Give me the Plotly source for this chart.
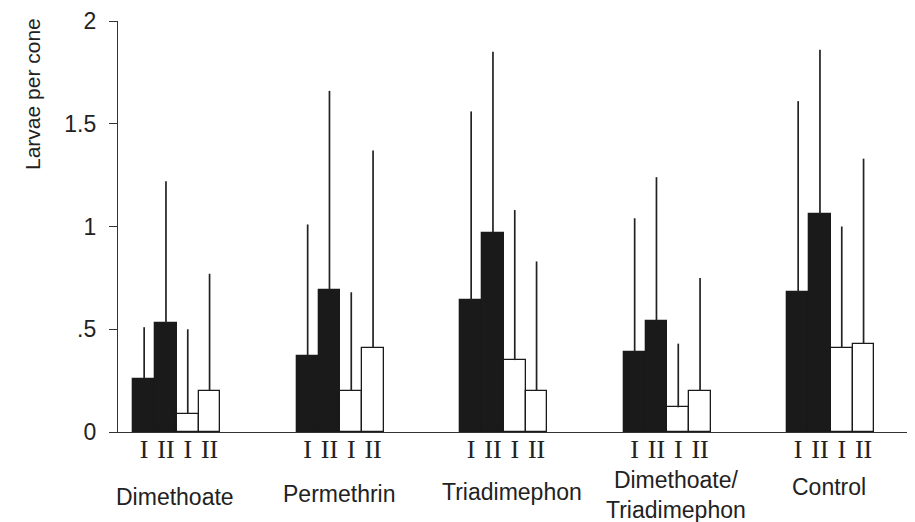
import plotly.graph_objects as go

categories = ["Dimethoate", "Permethrin", "Triadimephon", "Dimethoate/<br>Triadimephon", "Control"]
series_names = ["Black I", "Black II", "White I", "White II"]
roman_labels = ["I", "II", "I", "II"]

black_I = [0.26, 0.37, 0.64, 0.39, 0.68]
black_II = [0.53, 0.69, 0.97, 0.54, 1.06]
white_I = [0.09, 0.20, 0.35, 0.12, 0.41]
white_II = [0.20, 0.41, 0.20, 0.20, 0.43]

upper_black_I = [0.51, 1.01, 1.56, 1.04, 1.61]
upper_black_II = [1.22, 1.66, 1.85, 1.24, 1.86]
upper_white_I = [0.50, 0.68, 1.08, 0.43, 1.00]
upper_white_II = [0.77, 1.37, 0.83, 0.75, 1.33]

y_tickvals = [0, 0.5, 1, 1.5, 2]
y_ticktext = ["0", ".5", "1", "1.5", "2"]

# layout / style (page body has an 8px default margin)
OFF = 8
W, H = 915 - OFF, 522 - OFF
ml, mr, mt, mb = 118 - OFF, 2, 21 - OFF, 90
plot_w = W - ml - mr
plot_h = H - mt - mb
GROUP_STEP = 7.5
fills = ["#1a1a1a", "#1a1a1a", "#ffffff", "#ffffff"]
label_y_px = [497, 494, 492, 495, 487]
label_xshift = [-2, -1, 8, 9, -2]

means = [black_I, black_II, white_I, white_II]
uppers = [upper_black_I, upper_black_II, upper_white_I, upper_white_II]

fig = go.Figure()
tickvals, ticktext = [], []
for j, (name, vals, ups) in enumerate(zip(series_names, means, uppers)):
    xs = [g * GROUP_STEP + j for g in range(len(categories))]
    tickvals += xs
    ticktext += [roman_labels[j]] * len(xs)
    fig.add_trace(go.Bar(
        x=xs, y=vals, width=1, name=name,
        marker=dict(color=fills[j], line=dict(color="#1a1a1a", width=1.3)),
        error_y=dict(type="data", symmetric=False,
                     array=[u - v for u, v in zip(ups, vals)],
                     arrayminus=[0] * len(vals),
                     color="#222222", thickness=1.7, width=0),
        showlegend=False,
    ))


def py_to_paper(px):
    return (H - mb - (px - OFF)) / plot_h


def px_to_paper(px):
    return (px - OFF - ml) / plot_w


for g, cat in enumerate(categories):
    fig.add_annotation(
        x=g * GROUP_STEP + 1.5, xref="x",
        y=py_to_paper(label_y_px[g]), yref="paper",
        text=cat, showarrow=False, xshift=label_xshift[g],
        font=dict(family="Liberation Sans, Arial", size=23, color="#222222"),
        align="center", xanchor="center", yanchor="middle",
    )

fig.add_annotation(
    x=px_to_paper(32), xref="paper", y=py_to_paper(94), yref="paper",
    text="Larvae per cone", textangle=-90, showarrow=False,
    font=dict(family="Liberation Sans, Arial", size=21, color="#222222"),
    xanchor="center", yanchor="middle",
)

fig.update_layout(
    width=W, height=H,
    margin=dict(l=ml, r=mr, t=mt, b=mb, autoexpand=False),
    plot_bgcolor="white", paper_bgcolor="white",
    barmode="overlay", bargap=0,
    xaxis=dict(
        range=[-1.2, -1.2 + plot_w / 21.8],
        tickvals=tickvals, ticktext=ticktext,
        tickfont=dict(family="Liberation Serif, Times New Roman", size=26, color="#222222"),
        showline=True, linecolor="#333333", linewidth=1.3,
        ticks="", showgrid=False, zeroline=False,
        ticklabelstandoff=-6,
    ),
    yaxis=dict(
        range=[0, 2],
        tickvals=y_tickvals, ticktext=y_ticktext,
        tickfont=dict(family="Liberation Sans, Arial", size=23, color="#222222"),
        showline=True, linecolor="#333333", linewidth=1.3,
        ticks="outside", ticklen=8, tickcolor="#333333", tickwidth=1.3,
        showgrid=False, zeroline=False,
        ticklabeloverflow="allow",
        ticklabelstandoff=8,
    ),
)

fig.write_html("out.html")
